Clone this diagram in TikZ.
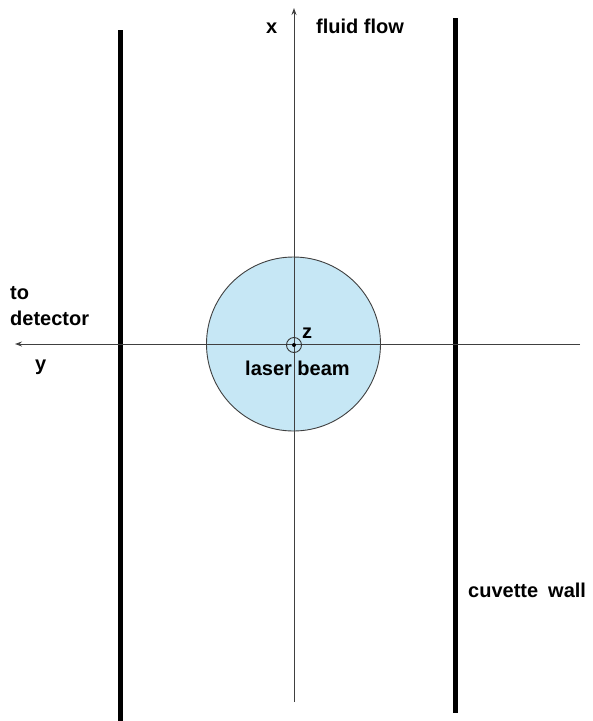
\documentclass[tikz,border=0pt]{standalone}
\usepackage{fontspec}
\setmainfont{Liberation Sans}
\usetikzlibrary{arrows.meta}
\definecolor{beam}{HTML}{C6E7F5}
\tikzset{
  wall/.style={line width=5pt, black},
  axis/.style={line width=1pt, black!75},
  lbl/.style={anchor=base west, inner sep=0pt, font=\fontsize{20}{26}\selectfont\bfseries},
}
\begin{document}
\begin{tikzpicture}[x=1pt,y=-1pt]
\useasboundingbox (0,0) rectangle (593,721);
% walls
\coordinate (lwt) at (120,30);
\coordinate (lwb) at (120,721);
\coordinate (rwt) at (455.5,18);
\coordinate (rwb) at (455.5,713);
\draw[wall] (lwt) -- (lwb);
\draw[wall] (rwt) -- (rwb);
% laser beam
\node[circle, draw=black!75, line width=0.9pt, fill=beam, minimum size=174pt, inner sep=0pt] (beam) at (293.5,344) {};
% axes
\coordinate (xb) at (294,702);
\coordinate (xt) at (294,8);
\coordinate (yr) at (580,344);
\coordinate (yl) at (15,344);
\draw[axis, -{Stealth[length=7pt,width=5pt]}] (xb) -- (xt);
\draw[axis, -{Stealth[length=7pt,width=5pt]}] (yr) -- (yl);
% z axis symbol
\node[circle, draw=black!80, line width=0.9pt, minimum size=15pt, inner sep=0pt] (zc) at (294,345) {};
\fill[black] (zc.center) circle (2pt);
% labels
\node[lbl] (xl) at (266,33) {x};
\node[lbl] (ff) at (316,33) {fluid flow};
\node[lbl, align=left, anchor=base west] (td) at (10,299) {to};
\node[lbl] (td2) at (10,325) {detector};
\node[lbl] (yl2) at (35,370) {y};
\node[lbl] (zl) at (302,338) {z};
\node[lbl] (lb) at (245,375) {laser beam};
\node[lbl] (cw) at (468,597) {cuvette\hspace{0.5em}wall};
\end{tikzpicture}
\end{document}
